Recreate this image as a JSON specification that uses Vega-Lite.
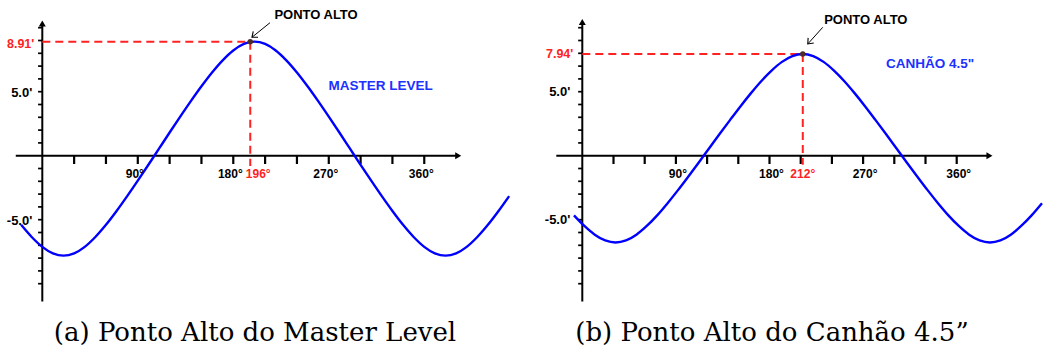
{
  "$schema": "https://vega.github.io/schema/vega-lite/v6.json",
  "padding": 0,
  "spacing": 0,
  "bounds": "flush",
  "config": {
    "view": {"stroke": null},
    "text": {"font": "Liberation Sans", "fontWeight": "bold"}
  },
  "datasets": {
    "axesA": [{"x0": -25, "x1": 392, "y0": 0, "y1": 0}, {"x0": 0, "x1": 0, "y0": -11.4, "y1": 10.3}],
    "axesB": [{"x0": -25, "x1": 391.5, "y0": 0, "y1": 0}, {"x0": 0, "x1": 0, "y0": -11.4, "y1": 10.4}],
    "tipXA": [{"deg": 392, "val": 0}],
    "tipYA": [{"deg": 0, "val": 10.33}],
    "tipXB": [{"deg": 391.5, "val": 0}],
    "tipYB": [{"deg": 0, "val": 10.45}],
    "xTicks": [
      {"deg": 30, "y0": 0, "y1": -0.65}, {"deg": 60, "y0": 0, "y1": -0.65}, {"deg": 90, "y0": 0, "y1": -0.65}, {"deg": 120, "y0": 0, "y1": -0.65},
      {"deg": 150, "y0": 0, "y1": -0.65}, {"deg": 180, "y0": 0, "y1": -0.65}, {"deg": 210, "y0": 0, "y1": -0.65}, {"deg": 240, "y0": 0, "y1": -0.65},
      {"deg": 270, "y0": 0, "y1": -0.65}, {"deg": 300, "y0": 0, "y1": -0.65}, {"deg": 330, "y0": 0, "y1": -0.65}, {"deg": 360, "y0": 0, "y1": -0.65}
    ],
    "yTicks": [
      {"val": 1, "x0": -4, "x1": 0}, {"val": 2, "x0": -4, "x1": 0}, {"val": 3, "x0": -4, "x1": 0}, {"val": 4, "x0": -4, "x1": 0}, {"val": 5, "x0": -4, "x1": 0},
      {"val": 6, "x0": -4, "x1": 0}, {"val": 7, "x0": -4, "x1": 0}, {"val": 8, "x0": -4, "x1": 0}, {"val": 9, "x0": -4, "x1": 0}, {"val": 10, "x0": -4, "x1": 0},
      {"val": -1, "x0": -4, "x1": 0}, {"val": -2, "x0": -4, "x1": 0}, {"val": -3, "x0": -4, "x1": 0}, {"val": -4, "x0": -4, "x1": 0}, {"val": -5, "x0": -4, "x1": 0},
      {"val": -6, "x0": -4, "x1": 0}, {"val": -7, "x0": -4, "x1": 0}, {"val": -8, "x0": -4, "x1": 0}, {"val": -9, "x0": -4, "x1": 0}, {"val": -10, "x0": -4, "x1": 0}
    ],
    "xLabels": [{"deg": 90, "val": 0, "label": "90°"}, {"deg": 180, "val": 0, "label": "180°"}, {"deg": 270, "val": 0, "label": "270°"}, {"deg": 360, "val": 0, "label": "360°"}],
    "yLabels": [{"deg": 0, "val": 5, "label": "5.0'"}, {"deg": 0, "val": -5, "label": "-5.0'"}],
    "curveA": [
      {"deg": -20, "val": -5.40}, {"deg": -10, "val": -6.35}, {"deg": 0, "val": -7.12}, {"deg": 10, "val": -7.63}, {"deg": 20, "val": -7.81},
      {"deg": 30, "val": -7.63}, {"deg": 40, "val": -7.12}, {"deg": 50, "val": -6.35}, {"deg": 60, "val": -5.40}, {"deg": 70, "val": -4.32},
      {"deg": 80, "val": -3.16}, {"deg": 90, "val": -1.95}, {"deg": 100, "val": -0.71}, {"deg": 110, "val": 0.55}, {"deg": 120, "val": 1.81},
      {"deg": 130, "val": 3.05}, {"deg": 140, "val": 4.26}, {"deg": 150, "val": 5.42}, {"deg": 160, "val": 6.50}, {"deg": 170, "val": 7.45},
      {"deg": 180, "val": 8.22}, {"deg": 190, "val": 8.73}, {"deg": 200, "val": 8.91}, {"deg": 210, "val": 8.73}, {"deg": 220, "val": 8.22},
      {"deg": 230, "val": 7.45}, {"deg": 240, "val": 6.50}, {"deg": 250, "val": 5.42}, {"deg": 260, "val": 4.26}, {"deg": 270, "val": 3.05},
      {"deg": 280, "val": 1.81}, {"deg": 290, "val": 0.55}, {"deg": 300, "val": -0.71}, {"deg": 310, "val": -1.95}, {"deg": 320, "val": -3.16},
      {"deg": 330, "val": -4.32}, {"deg": 340, "val": -5.40}, {"deg": 350, "val": -6.35}, {"deg": 360, "val": -7.12}, {"deg": 370, "val": -7.63},
      {"deg": 380, "val": -7.81}, {"deg": 390, "val": -7.63}, {"deg": 400, "val": -7.12}, {"deg": 410, "val": -6.35}, {"deg": 420, "val": -5.40},
      {"deg": 430, "val": -4.32}, {"deg": 440, "val": -3.16}
    ],
    "curveB": [
      {"deg": -8, "val": -4.66}, {"deg": 2, "val": -5.49}, {"deg": 12, "val": -6.17}, {"deg": 22, "val": -6.62}, {"deg": 32, "val": -6.78},
      {"deg": 42, "val": -6.62}, {"deg": 52, "val": -6.17}, {"deg": 62, "val": -5.49}, {"deg": 72, "val": -4.66}, {"deg": 82, "val": -3.71},
      {"deg": 92, "val": -2.69}, {"deg": 102, "val": -1.62}, {"deg": 112, "val": -0.53}, {"deg": 122, "val": 0.58}, {"deg": 132, "val": 1.69},
      {"deg": 142, "val": 2.78}, {"deg": 152, "val": 3.85}, {"deg": 162, "val": 4.87}, {"deg": 172, "val": 5.82}, {"deg": 182, "val": 6.65},
      {"deg": 192, "val": 7.33}, {"deg": 202, "val": 7.78}, {"deg": 212, "val": 7.94}, {"deg": 222, "val": 7.78}, {"deg": 232, "val": 7.33},
      {"deg": 242, "val": 6.65}, {"deg": 252, "val": 5.82}, {"deg": 262, "val": 4.87}, {"deg": 272, "val": 3.85}, {"deg": 282, "val": 2.78},
      {"deg": 292, "val": 1.69}, {"deg": 302, "val": 0.58}, {"deg": 312, "val": -0.53}, {"deg": 322, "val": -1.62}, {"deg": 332, "val": -2.69},
      {"deg": 342, "val": -3.71}, {"deg": 352, "val": -4.66}, {"deg": 362, "val": -5.49}, {"deg": 372, "val": -6.17}, {"deg": 382, "val": -6.62},
      {"deg": 392, "val": -6.78}, {"deg": 402, "val": -6.62}, {"deg": 412, "val": -6.17}, {"deg": 422, "val": -5.49}, {"deg": 432, "val": -4.66},
      {"deg": 442, "val": -3.71}
    ],
    "peakA": [{"deg": 196, "val": 8.91, "originDeg": 0, "originVal": 0, "dropVal": -0.8, "degText": "196°", "valText": "8.91'"}],
    "peakB": [{"deg": 212, "val": 7.94, "originDeg": 0, "originVal": 0, "dropVal": -0.7, "degText": "212°", "valText": "7.94'"}],
    "noteA": [{"fromDeg": 214.6, "fromVal": 10.39, "toDeg": 197.6, "toVal": 9.25, "textDeg": 258, "textVal": 10.99, "text": "PONTO ALTO"}],
    "noteB": [{"fromDeg": 231.2, "fromVal": 10.03, "toDeg": 216.8, "toVal": 8.73, "textDeg": 272.6, "textVal": 10.64, "text": "PONTO ALTO"}],
    "seriesA": [{"deg": 318.8, "val": 5.48, "name": "MASTER LEVEL"}],
    "seriesB": [{"deg": 334.3, "val": 7.19, "name": "CANHÃO 4.5\""}]
  },
  "hconcat": [
    {
      "width": 522,
      "height": 310,
      "title": {"text": "(a) Ponto Alto do Master Level", "orient": "bottom", "anchor": "middle", "font": "DejaVu Serif", "fontSize": 26, "fontWeight": "normal", "color": "black", "baseline": "alphabetic", "offset": 31, "dx": -6},
      "layer": [
        {"data": {"name": "yTicks"}, "mark": {"type": "rule", "color": "black", "strokeWidth": 1.7},
         "encoding": {"x": {"field": "x0", "type": "quantitative", "scale": {"domain": [-39.87, 452.12], "nice": false, "zero": false}, "axis": null},
                      "x2": {"field": "x1"},
                      "y": {"field": "val", "type": "quantitative", "scale": {"domain": [-12.055, 12.164], "nice": false, "zero": false}, "axis": null}}},
        {"data": {"name": "xTicks"}, "mark": {"type": "rule", "color": "black", "strokeWidth": 2.2},
         "encoding": {"x": {"field": "deg", "type": "quantitative", "scale": {"domain": [-39.87, 452.12], "nice": false, "zero": false}, "axis": null},
                      "y": {"field": "y0", "type": "quantitative", "scale": {"domain": [-12.055, 12.164], "nice": false, "zero": false}, "axis": null},
                      "y2": {"field": "y1"}}},
        {"data": {"name": "axesA"}, "mark": {"type": "rule", "color": "black", "strokeWidth": 2},
         "encoding": {"x": {"field": "x0", "type": "quantitative", "scale": {"domain": [-39.87, 452.12], "nice": false, "zero": false}, "axis": null},
                      "x2": {"field": "x1"},
                      "y": {"field": "y0", "type": "quantitative", "scale": {"domain": [-12.055, 12.164], "nice": false, "zero": false}, "axis": null},
                      "y2": {"field": "y1"}}},
        {"data": {"name": "tipXA"}, "mark": {"type": "point", "shape": "triangle-right", "filled": true, "color": "black", "size": 49, "opacity": 1},
         "encoding": {"x": {"field": "deg", "type": "quantitative", "scale": {"domain": [-39.87, 452.12], "nice": false, "zero": false}, "axis": null},
                      "y": {"field": "val", "type": "quantitative", "scale": {"domain": [-12.055, 12.164], "nice": false, "zero": false}, "axis": null}}},
        {"data": {"name": "tipYA"}, "mark": {"type": "point", "shape": "triangle-up", "filled": true, "color": "black", "size": 49, "opacity": 1},
         "encoding": {"x": {"field": "deg", "type": "quantitative", "scale": {"domain": [-39.87, 452.12], "nice": false, "zero": false}, "axis": null},
                      "y": {"field": "val", "type": "quantitative", "scale": {"domain": [-12.055, 12.164], "nice": false, "zero": false}, "axis": null}}},
        {"data": {"name": "peakA"}, "mark": {"type": "rule", "color": "#ff2222", "strokeWidth": 2, "strokeDash": [8, 5]},
         "encoding": {"x": {"field": "originDeg", "type": "quantitative", "scale": {"domain": [-39.87, 452.12], "nice": false, "zero": false}, "axis": null},
                      "x2": {"field": "deg"},
                      "y": {"field": "val", "type": "quantitative", "scale": {"domain": [-12.055, 12.164], "nice": false, "zero": false}, "axis": null}}},
        {"data": {"name": "peakA"}, "mark": {"type": "rule", "color": "#ff2222", "strokeWidth": 2, "strokeDash": [8, 5]},
         "encoding": {"x": {"field": "deg", "type": "quantitative", "scale": {"domain": [-39.87, 452.12], "nice": false, "zero": false}, "axis": null},
                      "y": {"field": "val", "type": "quantitative", "scale": {"domain": [-12.055, 12.164], "nice": false, "zero": false}, "axis": null},
                      "y2": {"field": "dropVal"}}},
        {"data": {"name": "curveA"}, "mark": {"type": "line", "color": "#0000ff", "strokeWidth": 2.4, "interpolate": "monotone"},
         "encoding": {"x": {"field": "deg", "type": "quantitative", "scale": {"domain": [-39.87, 452.12], "nice": false, "zero": false}, "axis": null},
                      "y": {"field": "val", "type": "quantitative", "scale": {"domain": [-12.055, 12.164], "nice": false, "zero": false}, "axis": null}}},
        {"data": {"name": "peakA"}, "mark": {"type": "point", "shape": "circle", "filled": true, "color": "#4f2a2a", "size": 30, "opacity": 1},
         "encoding": {"x": {"field": "deg", "type": "quantitative", "scale": {"domain": [-39.87, 452.12], "nice": false, "zero": false}, "axis": null},
                      "y": {"field": "val", "type": "quantitative", "scale": {"domain": [-12.055, 12.164], "nice": false, "zero": false}, "axis": null}}},
        {"data": {"name": "noteA"}, "mark": {"type": "rule", "color": "black", "strokeWidth": 1},
         "encoding": {"x": {"field": "fromDeg", "type": "quantitative", "scale": {"domain": [-39.87, 452.12], "nice": false, "zero": false}, "axis": null},
                      "x2": {"field": "toDeg"},
                      "y": {"field": "fromVal", "type": "quantitative", "scale": {"domain": [-12.055, 12.164], "nice": false, "zero": false}, "axis": null},
                      "y2": {"field": "toVal"}}},
        {"data": {"name": "noteA"}, "mark": {"type": "point", "shape": "M-1,-0.8L0,0L-1,0.8", "filled": false, "color": "black", "strokeWidth": 1.1, "size": 90, "angle": 141, "opacity": 1},
         "encoding": {"x": {"field": "toDeg", "type": "quantitative", "scale": {"domain": [-39.87, 452.12], "nice": false, "zero": false}, "axis": null},
                      "y": {"field": "toVal", "type": "quantitative", "scale": {"domain": [-12.055, 12.164], "nice": false, "zero": false}, "axis": null}}},
        {"data": {"name": "noteA"}, "mark": {"type": "text", "fontSize": 13, "color": "black", "align": "center", "baseline": "middle"},
         "encoding": {"x": {"field": "textDeg", "type": "quantitative", "scale": {"domain": [-39.87, 452.12], "nice": false, "zero": false}, "axis": null},
                      "y": {"field": "textVal", "type": "quantitative", "scale": {"domain": [-12.055, 12.164], "nice": false, "zero": false}, "axis": null},
                      "text": {"field": "text"}}},
        {"data": {"name": "seriesA"}, "mark": {"type": "text", "fontSize": 13.5, "color": "#2030ff", "align": "center", "baseline": "middle"},
         "encoding": {"x": {"field": "deg", "type": "quantitative", "scale": {"domain": [-39.87, 452.12], "nice": false, "zero": false}, "axis": null},
                      "y": {"field": "val", "type": "quantitative", "scale": {"domain": [-12.055, 12.164], "nice": false, "zero": false}, "axis": null},
                      "text": {"field": "name"}}},
        {"data": {"name": "xLabels"}, "mark": {"type": "text", "fontSize": 12, "color": "black", "align": "center", "baseline": "middle", "dx": -3, "dy": 18},
         "encoding": {"x": {"field": "deg", "type": "quantitative", "scale": {"domain": [-39.87, 452.12], "nice": false, "zero": false}, "axis": null},
                      "y": {"field": "val", "type": "quantitative", "scale": {"domain": [-12.055, 12.164], "nice": false, "zero": false}, "axis": null},
                      "text": {"field": "label"}}},
        {"data": {"name": "peakA"}, "mark": {"type": "text", "fontSize": 12, "color": "#ff2222", "align": "center", "baseline": "middle", "dx": 8, "dy": 18},
         "encoding": {"x": {"field": "deg", "type": "quantitative", "scale": {"domain": [-39.87, 452.12], "nice": false, "zero": false}, "axis": null},
                      "y": {"field": "originVal", "type": "quantitative", "scale": {"domain": [-12.055, 12.164], "nice": false, "zero": false}, "axis": null},
                      "text": {"field": "degText"}}},
        {"data": {"name": "yLabels"}, "mark": {"type": "text", "fontSize": 13, "color": "black", "align": "right", "baseline": "middle", "dx": -10, "dy": 1},
         "encoding": {"x": {"field": "deg", "type": "quantitative", "scale": {"domain": [-39.87, 452.12], "nice": false, "zero": false}, "axis": null},
                      "y": {"field": "val", "type": "quantitative", "scale": {"domain": [-12.055, 12.164], "nice": false, "zero": false}, "axis": null},
                      "text": {"field": "label"}}},
        {"data": {"name": "peakA"}, "mark": {"type": "text", "fontSize": 12.5, "color": "#ff2222", "align": "right", "baseline": "middle", "dx": -8, "dy": 2},
         "encoding": {"x": {"field": "originDeg", "type": "quantitative", "scale": {"domain": [-39.87, 452.12], "nice": false, "zero": false}, "axis": null},
                      "y": {"field": "val", "type": "quantitative", "scale": {"domain": [-12.055, 12.164], "nice": false, "zero": false}, "axis": null},
                      "text": {"field": "valText"}}}
      ]
    },
    {
      "width": 522,
      "height": 310,
      "title": {"text": "(b) Ponto Alto do Canhão 4.5”", "orient": "bottom", "anchor": "middle", "font": "DejaVu Serif", "fontSize": 26, "fontWeight": "normal", "color": "black", "baseline": "alphabetic", "offset": 31, "dx": -11},
      "layer": [
        {"data": {"name": "yTicks"}, "mark": {"type": "rule", "color": "black", "strokeWidth": 1.7},
         "encoding": {"x": {"field": "x0", "type": "quantitative", "scale": {"domain": [-57.98, 443.94], "nice": false, "zero": false}, "axis": null},
                      "x2": {"field": "x1"},
                      "y": {"field": "val", "type": "quantitative", "scale": {"domain": [-12.055, 12.164], "nice": false, "zero": false}, "axis": null}}},
        {"data": {"name": "xTicks"}, "mark": {"type": "rule", "color": "black", "strokeWidth": 2.2},
         "encoding": {"x": {"field": "deg", "type": "quantitative", "scale": {"domain": [-57.98, 443.94], "nice": false, "zero": false}, "axis": null},
                      "y": {"field": "y0", "type": "quantitative", "scale": {"domain": [-12.055, 12.164], "nice": false, "zero": false}, "axis": null},
                      "y2": {"field": "y1"}}},
        {"data": {"name": "axesB"}, "mark": {"type": "rule", "color": "black", "strokeWidth": 2},
         "encoding": {"x": {"field": "x0", "type": "quantitative", "scale": {"domain": [-57.98, 443.94], "nice": false, "zero": false}, "axis": null},
                      "x2": {"field": "x1"},
                      "y": {"field": "y0", "type": "quantitative", "scale": {"domain": [-12.055, 12.164], "nice": false, "zero": false}, "axis": null},
                      "y2": {"field": "y1"}}},
        {"data": {"name": "tipXB"}, "mark": {"type": "point", "shape": "triangle-right", "filled": true, "color": "black", "size": 49, "opacity": 1},
         "encoding": {"x": {"field": "deg", "type": "quantitative", "scale": {"domain": [-57.98, 443.94], "nice": false, "zero": false}, "axis": null},
                      "y": {"field": "val", "type": "quantitative", "scale": {"domain": [-12.055, 12.164], "nice": false, "zero": false}, "axis": null}}},
        {"data": {"name": "tipYB"}, "mark": {"type": "point", "shape": "triangle-up", "filled": true, "color": "black", "size": 49, "opacity": 1},
         "encoding": {"x": {"field": "deg", "type": "quantitative", "scale": {"domain": [-57.98, 443.94], "nice": false, "zero": false}, "axis": null},
                      "y": {"field": "val", "type": "quantitative", "scale": {"domain": [-12.055, 12.164], "nice": false, "zero": false}, "axis": null}}},
        {"data": {"name": "peakB"}, "mark": {"type": "rule", "color": "#ff2222", "strokeWidth": 2, "strokeDash": [8, 5]},
         "encoding": {"x": {"field": "originDeg", "type": "quantitative", "scale": {"domain": [-57.98, 443.94], "nice": false, "zero": false}, "axis": null},
                      "x2": {"field": "deg"},
                      "y": {"field": "val", "type": "quantitative", "scale": {"domain": [-12.055, 12.164], "nice": false, "zero": false}, "axis": null}}},
        {"data": {"name": "peakB"}, "mark": {"type": "rule", "color": "#ff2222", "strokeWidth": 2, "strokeDash": [8, 5]},
         "encoding": {"x": {"field": "deg", "type": "quantitative", "scale": {"domain": [-57.98, 443.94], "nice": false, "zero": false}, "axis": null},
                      "y": {"field": "val", "type": "quantitative", "scale": {"domain": [-12.055, 12.164], "nice": false, "zero": false}, "axis": null},
                      "y2": {"field": "dropVal"}}},
        {"data": {"name": "curveB"}, "mark": {"type": "line", "color": "#0000ff", "strokeWidth": 2.4, "interpolate": "monotone"},
         "encoding": {"x": {"field": "deg", "type": "quantitative", "scale": {"domain": [-57.98, 443.94], "nice": false, "zero": false}, "axis": null},
                      "y": {"field": "val", "type": "quantitative", "scale": {"domain": [-12.055, 12.164], "nice": false, "zero": false}, "axis": null}}},
        {"data": {"name": "peakB"}, "mark": {"type": "point", "shape": "circle", "filled": true, "color": "#4f2a2a", "size": 30, "opacity": 1},
         "encoding": {"x": {"field": "deg", "type": "quantitative", "scale": {"domain": [-57.98, 443.94], "nice": false, "zero": false}, "axis": null},
                      "y": {"field": "val", "type": "quantitative", "scale": {"domain": [-12.055, 12.164], "nice": false, "zero": false}, "axis": null}}},
        {"data": {"name": "noteB"}, "mark": {"type": "rule", "color": "black", "strokeWidth": 1},
         "encoding": {"x": {"field": "fromDeg", "type": "quantitative", "scale": {"domain": [-57.98, 443.94], "nice": false, "zero": false}, "axis": null},
                      "x2": {"field": "toDeg"},
                      "y": {"field": "fromVal", "type": "quantitative", "scale": {"domain": [-12.055, 12.164], "nice": false, "zero": false}, "axis": null},
                      "y2": {"field": "toVal"}}},
        {"data": {"name": "noteB"}, "mark": {"type": "point", "shape": "M-1,-0.8L0,0L-1,0.8", "filled": false, "color": "black", "strokeWidth": 1.1, "size": 90, "angle": 132, "opacity": 1},
         "encoding": {"x": {"field": "toDeg", "type": "quantitative", "scale": {"domain": [-57.98, 443.94], "nice": false, "zero": false}, "axis": null},
                      "y": {"field": "toVal", "type": "quantitative", "scale": {"domain": [-12.055, 12.164], "nice": false, "zero": false}, "axis": null}}},
        {"data": {"name": "noteB"}, "mark": {"type": "text", "fontSize": 13, "color": "black", "align": "center", "baseline": "middle"},
         "encoding": {"x": {"field": "textDeg", "type": "quantitative", "scale": {"domain": [-57.98, 443.94], "nice": false, "zero": false}, "axis": null},
                      "y": {"field": "textVal", "type": "quantitative", "scale": {"domain": [-12.055, 12.164], "nice": false, "zero": false}, "axis": null},
                      "text": {"field": "text"}}},
        {"data": {"name": "seriesB"}, "mark": {"type": "text", "fontSize": 13.5, "color": "#2030ff", "align": "center", "baseline": "middle"},
         "encoding": {"x": {"field": "deg", "type": "quantitative", "scale": {"domain": [-57.98, 443.94], "nice": false, "zero": false}, "axis": null},
                      "y": {"field": "val", "type": "quantitative", "scale": {"domain": [-12.055, 12.164], "nice": false, "zero": false}, "axis": null},
                      "text": {"field": "name"}}},
        {"data": {"name": "xLabels"}, "mark": {"type": "text", "fontSize": 12, "color": "black", "align": "center", "baseline": "middle", "dx": 2, "dy": 18},
         "encoding": {"x": {"field": "deg", "type": "quantitative", "scale": {"domain": [-57.98, 443.94], "nice": false, "zero": false}, "axis": null},
                      "y": {"field": "val", "type": "quantitative", "scale": {"domain": [-12.055, 12.164], "nice": false, "zero": false}, "axis": null},
                      "text": {"field": "label"}}},
        {"data": {"name": "peakB"}, "mark": {"type": "text", "fontSize": 12, "color": "#ff2222", "align": "center", "baseline": "middle", "dy": 18},
         "encoding": {"x": {"field": "deg", "type": "quantitative", "scale": {"domain": [-57.98, 443.94], "nice": false, "zero": false}, "axis": null},
                      "y": {"field": "originVal", "type": "quantitative", "scale": {"domain": [-12.055, 12.164], "nice": false, "zero": false}, "axis": null},
                      "text": {"field": "degText"}}},
        {"data": {"name": "yLabels"}, "mark": {"type": "text", "fontSize": 13, "color": "black", "align": "right", "baseline": "middle", "dx": -12},
         "encoding": {"x": {"field": "deg", "type": "quantitative", "scale": {"domain": [-57.98, 443.94], "nice": false, "zero": false}, "axis": null},
                      "y": {"field": "val", "type": "quantitative", "scale": {"domain": [-12.055, 12.164], "nice": false, "zero": false}, "axis": null},
                      "text": {"field": "label"}}},
        {"data": {"name": "peakB"}, "mark": {"type": "text", "fontSize": 12.5, "color": "#ff2222", "align": "right", "baseline": "middle", "dx": -9},
         "encoding": {"x": {"field": "originDeg", "type": "quantitative", "scale": {"domain": [-57.98, 443.94], "nice": false, "zero": false}, "axis": null},
                      "y": {"field": "val", "type": "quantitative", "scale": {"domain": [-12.055, 12.164], "nice": false, "zero": false}, "axis": null},
                      "text": {"field": "valText"}}}
      ]
    }
  ]
}
